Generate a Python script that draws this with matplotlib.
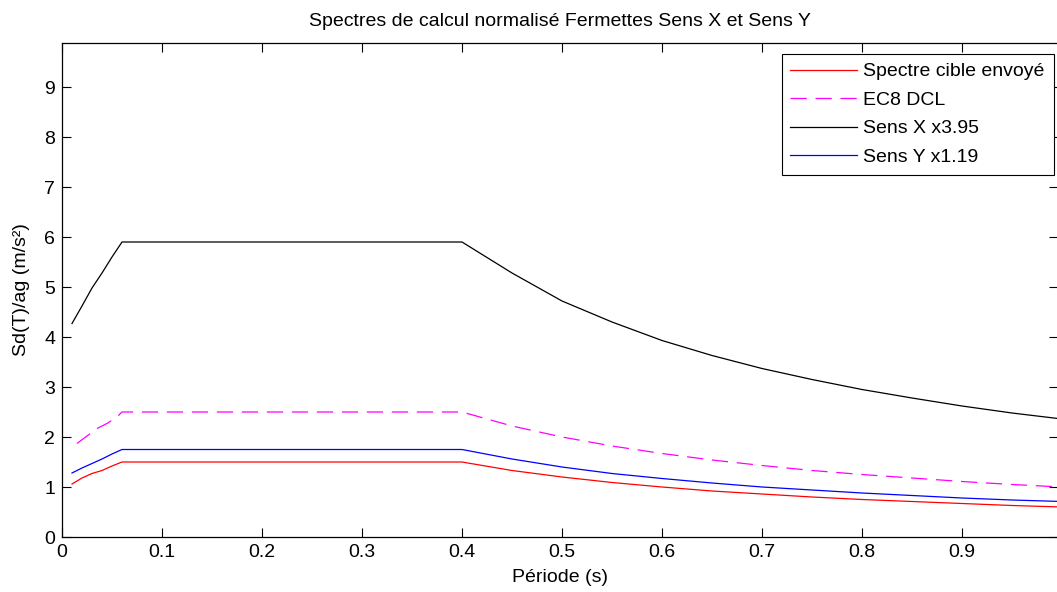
import numpy as np
import matplotlib
matplotlib.use("Agg")
import matplotlib.pyplot as plt

plt.rcParams['font.family'] = ['Liberation Sans', 'DejaVu Sans']

# Spectre cible envoyé (rouge)
t_red = [0.01, 0.02, 0.03, 0.04, 0.05, 0.06, 0.40, 0.45, 0.50, 0.55, 0.60, 0.65,
         0.70, 0.75, 0.80, 0.85, 0.90, 0.95, 1.00]
sd_red = [1.06, 1.18, 1.27, 1.33, 1.42, 1.50, 1.50, 1.33, 1.20, 1.09, 1.00, 0.92,
          0.86, 0.80, 0.75, 0.71, 0.67, 0.63, 0.60]

# EC8 DCL (magenta, tirets)
t_ec8 = [0.015, 0.025, 0.035, 0.045, 0.055, 0.06, 0.40, 0.45, 0.50, 0.55, 0.60, 0.65,
         0.70, 0.75, 0.80, 0.85, 0.90, 0.95, 1.00]
sd_ec8 = [1.87, 2.02, 2.17, 2.27, 2.40, 2.50, 2.50, 2.22, 2.00, 1.82, 1.67, 1.54,
          1.43, 1.33, 1.25, 1.18, 1.11, 1.05, 1.00]

# Sens X x3.95 (noir)
t_x = [0.01, 0.02, 0.03, 0.04, 0.05, 0.06, 0.40, 0.45, 0.50, 0.55, 0.60, 0.65,
       0.70, 0.75, 0.80, 0.85, 0.90, 0.95, 1.00]
sd_x = [4.27, 4.62, 4.98, 5.28, 5.60, 5.90, 5.90, 5.28, 4.72, 4.30, 3.93, 3.63,
        3.37, 3.15, 2.95, 2.78, 2.62, 2.48, 2.36]

# Sens Y x1.19 (bleu)
t_y = [0.01, 0.02, 0.03, 0.04, 0.05, 0.06, 0.40, 0.45, 0.50, 0.55, 0.60, 0.65,
       0.70, 0.75, 0.80, 0.85, 0.90, 0.95, 1.00]
sd_y = [1.28, 1.38, 1.47, 1.56, 1.66, 1.75, 1.75, 1.56, 1.40, 1.27, 1.17, 1.08,
        1.00, 0.94, 0.88, 0.83, 0.78, 0.74, 0.71]

x_ticks = [0, 0.1, 0.2, 0.3, 0.4, 0.5, 0.6, 0.7, 0.8, 0.9]
x_ticklabels = ['0', '0.1', '0.2', '0.3', '0.4', '0.5', '0.6', '0.7', '0.8', '0.9']
y_ticks = list(range(10))

W, H = 1057, 592
fs = 14
fig = plt.figure(figsize=(W / 100, H / 100), dpi=100)
ax = fig.add_axes([62 / W, (H - 537) / H, (1057.5 - 62) / W, (537 - 43) / H])

ax.plot(t_red, sd_red, color='red', lw=0.9, label='Spectre cible envoyé')
ax.plot(t_ec8, sd_ec8, color='magenta', lw=0.9, ls=(0, (13, 7)), label='EC8 DCL')
ax.plot(t_x, sd_x, color='black', lw=0.9, label='Sens X x3.95')
ax.plot(t_y, sd_y, color='blue', lw=0.9, label='Sens Y x1.19')

ax.set_xlim(0, 0.9955)
ax.set_ylim(0, 9.88)
ax.set_xticks(x_ticks)
ax.set_xticklabels(x_ticklabels)
ax.set_yticks(y_ticks)
ax.tick_params(direction='in', length=6.5, width=0.8, top=True, right=True,
               labelsize=fs, pad=5)
for s in ax.spines.values():
    s.set_linewidth(0.9)

ax.set_title('Spectres de calcul normalisé Fermettes Sens X et Sens Y',
             fontsize=fs, pad=12)
ax.set_xlabel('Période (s)', fontsize=fs, labelpad=6)
ax.set_ylabel('Sd(T)/ag (m/s²)', fontsize=fs, labelpad=10)

leg = ax.legend(loc='upper right', bbox_to_anchor=(1053.5 / W, (H - 54) / H),
                bbox_transform=fig.transFigure, borderaxespad=0, fancybox=False,
                framealpha=1, edgecolor='black', fontsize=fs, handlelength=3.4,
                labelspacing=0.56, handletextpad=0.35, borderpad=0.45)
leg.get_frame().set_linewidth(0.8)

fig.savefig('out.png', dpi=100)
